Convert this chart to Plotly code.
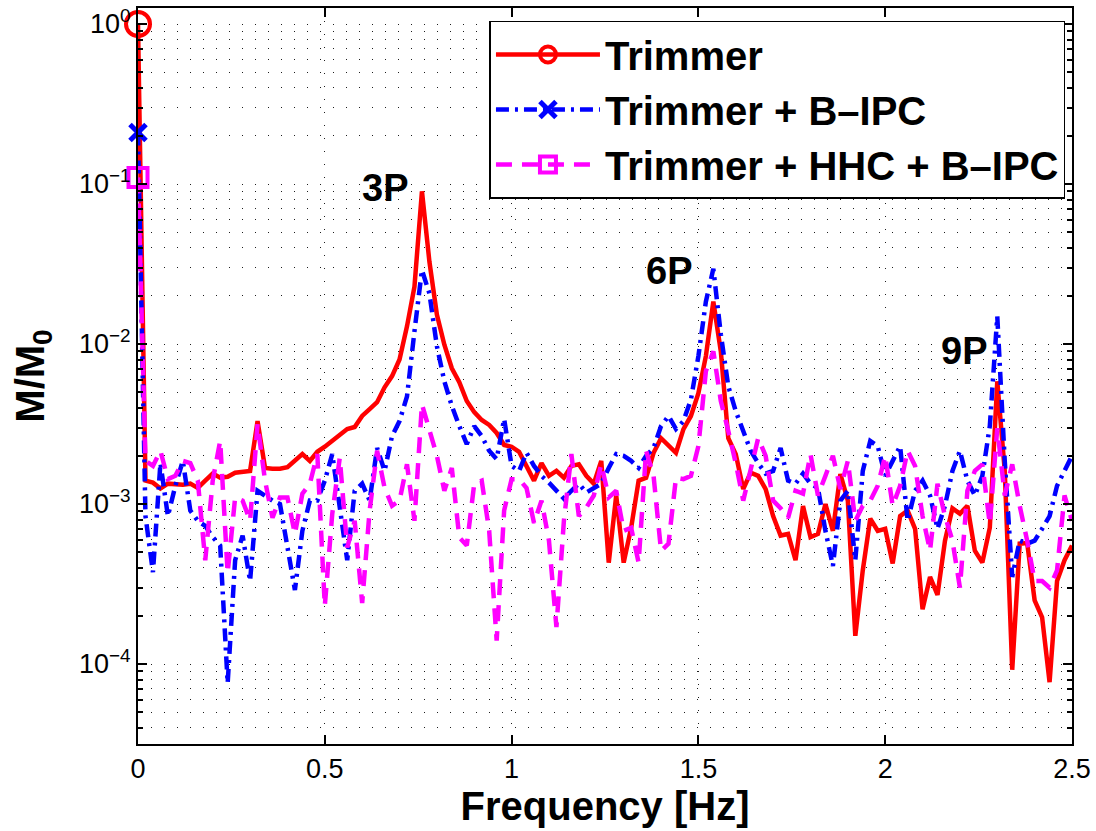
import numpy as np
import plotly.graph_objects as go

# ---------------- data ----------------
freq = [0.00, 0.02, 0.04, 0.06, 0.08, 0.10, 0.12, 0.14, 0.16, 0.18,
        0.20, 0.22, 0.24, 0.26, 0.28, 0.30, 0.32, 0.34, 0.36, 0.38,
        0.40, 0.42, 0.44, 0.46, 0.48, 0.50, 0.52, 0.54, 0.56, 0.58,
        0.60, 0.62, 0.64, 0.66, 0.68, 0.70, 0.72, 0.74, 0.76, 0.78,
        0.80, 0.82, 0.84, 0.86, 0.88, 0.90, 0.92, 0.94, 0.96, 0.98,
        1.00, 1.02, 1.04, 1.06, 1.08, 1.10, 1.12, 1.14, 1.16, 1.18,
        1.20, 1.22, 1.24, 1.26, 1.28, 1.30, 1.32, 1.34, 1.36, 1.38,
        1.40, 1.42, 1.44, 1.46, 1.48, 1.50, 1.52, 1.54, 1.56, 1.58,
        1.60, 1.62, 1.64, 1.66, 1.68, 1.70, 1.72, 1.74, 1.76, 1.78,
        1.80, 1.82, 1.84, 1.86, 1.88, 1.90, 1.92, 1.94, 1.96, 1.98,
        2.00, 2.02, 2.04, 2.06, 2.08, 2.10, 2.12, 2.14, 2.16, 2.18,
        2.20, 2.22, 2.24, 2.26, 2.28, 2.30, 2.32, 2.34, 2.36, 2.38,
        2.40, 2.42, 2.44, 2.46, 2.48, 2.50]

trimmer = [1.0, 1.4e-3, 1.36e-3, 1.25e-3, 1.34e-3, 1.32e-3, 1.32e-3, 1.34e-3, 1.26e-3, 1.4e-3,
           1.55e-3, 1.46e-3, 1.48e-3, 1.57e-3, 1.59e-3, 1.61e-3, 3.3e-3, 1.68e-3, 1.66e-3, 1.66e-3,
           1.7e-3, 1.86e-3, 2.05e-3, 1.86e-3, 2.12e-3, 2.28e-3, 2.48e-3, 2.74e-3, 2.94e-3, 3.03e-3,
           3.55e-3, 3.92e-3, 4.33e-3, 5.36e-3, 6.3e-3, 8.0e-3, 1.29e-2, 2.28e-2, 9.0e-2, 3.27e-2,
           1.53e-2, 9.9e-3, 7.05e-3, 5.77e-3, 4.4e-3, 3.75e-3, 3.35e-3, 3.12e-3, 2.78e-3, 2.34e-3,
           2.28e-3, 2.12e-3, 1.73e-3, 1.4e-3, 1.8e-3, 1.5e-3, 1.61e-3, 1.46e-3, 1.73e-3, 1.77e-3,
           1.5e-3, 1.34e-3, 1.86e-3, 4.3e-4, 1.13e-3, 4.3e-4, 7.1e-4, 1.4e-3, 1.46e-3, 2.09e-3,
           2.58e-3, 2.3e-3, 2.09e-3, 2.94e-3, 3.55e-3, 4.93e-3, 8.4e-3, 1.84e-2, 9.0e-3, 2.58e-3,
           2.05e-3, 1.24e-3, 1.57e-3, 1.5e-3, 1.24e-3, 8.4e-4, 6.35e-4, 6.5e-4, 4.45e-4, 9.7e-4,
           6.2e-4, 6.5e-4, 1.0e-3, 6.8e-4, 1.54e-3, 1.05e-3, 1.5e-4, 3.85e-4, 8.1e-4, 6.8e-4,
           7.0e-4, 4.25e-4, 8.4e-4, 9.1e-4, 7.0e-4, 2.2e-4, 3.5e-4, 2.7e-4, 5.9e-4, 9.4e-4,
           8.7e-4, 9.75e-4, 5.1e-4, 4.3e-4, 7.1e-4, 5.85e-3, 1.61e-3, 9.2e-5, 5.65e-4, 5.7e-4,
           2.5e-4, 1.96e-4, 7.7e-5, 3.3e-4, 4.45e-4, 5.5e-4]

trimmer_bipc = [0.21, 8.4e-4, 3.75e-4, 1.8e-3, 8.4e-4, 1.3e-3, 1.86e-3, 9.1e-4, 7.85e-4, 7.3e-4,
                6.2e-4, 5.5e-4, 7.6e-5, 4.45e-4, 6.35e-4, 3.3e-4, 1.21e-3, 1.13e-3, 1.05e-3, 1.0e-3,
                5.3e-4, 2.9e-4, 6.8e-4, 1.05e-3, 1.05e-3, 1.4e-3, 2.05e-3, 9.75e-4, 4.45e-4, 1.21e-3,
                1.34e-3, 1.05e-3, 2.24e-3, 1.61e-3, 2.66e-3, 3.3e-3, 4.7e-3, 1.2e-2, 2.9e-2, 2.07e-2,
                9.7e-3, 5.85e-3, 4.1e-3, 3.07e-3, 2.37e-3, 3.07e-3, 2.66e-3, 2.15e-3, 1.91e-3, 3.4e-3,
                1.73e-3, 1.61e-3, 2.09e-3, 1.73e-3, 1.5e-3, 1.36e-3, 1.21e-3, 1.08e-3, 1.21e-3, 1.34e-3,
                1.18e-3, 1.25e-3, 1.34e-3, 1.68e-3, 2.05e-3, 2.0e-3, 1.86e-3, 1.68e-3, 2.0e-3, 2.24e-3,
                3.07e-3, 3.55e-3, 2.94e-3, 3.3e-3, 4.5e-3, 8.4e-3, 1.84e-2, 2.95e-2, 1.15e-2, 5.45e-3,
                3.8e-3, 2.86e-3, 2.15e-3, 1.8e-3, 1.55e-3, 1.61e-3, 2.24e-3, 1.4e-3, 1.34e-3, 1.55e-3,
                1.34e-3, 1.26e-3, 6.8e-4, 4.1e-4, 1.05e-3, 1.21e-3, 4.45e-4, 1.61e-3, 2.48e-3, 2.3e-3,
                1.5e-3, 1.86e-3, 2.3e-3, 7.85e-4, 1.21e-3, 1.4e-3, 1.13e-3, 7.0e-4, 9.75e-4, 1.61e-3,
                2.15e-3, 1.4e-3, 1.13e-3, 1.5e-3, 3.07e-3, 1.49e-2, 1.86e-3, 3.5e-4, 5.9e-4, 5.65e-4,
                5.9e-4, 7.0e-4, 8.4e-4, 1.3e-3, 1.61e-3, 2.0e-3]

trimmer_hhc_bipc = [0.11, 1.86e-3, 1.73e-3, 2.15e-3, 1.43e-3, 1.5e-3, 1.86e-3, 1.8e-3, 1.4e-3, 4.45e-4,
                    1.4e-3, 2.48e-3, 3.7e-4, 1.1e-3, 1.05e-3, 7.85e-4, 3.16e-3, 1.4e-3, 8.2e-4, 1.1e-3,
                    1.1e-3, 6.5e-4, 1.16e-3, 1.34e-3, 2.05e-3, 2.3e-4, 8.7e-4, 1.94e-3, 5.35e-4, 7.85e-4,
                    2.4e-4, 9.1e-4, 2.15e-3, 1.26e-3, 9.75e-4, 1.05e-3, 1.77e-3, 7.85e-4, 4.2e-3, 2.86e-3,
                    2.0e-3, 1.21e-3, 1.68e-3, 6.2e-4, 5.5e-4, 1.34e-3, 1.4e-3, 6.8e-4, 1.4e-4, 9.1e-4,
                    1.43e-3, 1.43e-3, 1.26e-3, 7.6e-4, 1.05e-3, 5.9e-4, 1.7e-4, 7.85e-4, 2.05e-3, 8.4e-4,
                    9.5e-4, 1.13e-3, 1.77e-3, 1.1e-3, 1.21e-3, 6.8e-4, 7.1e-4, 4.3e-4, 2.15e-3, 1.5e-3,
                    5.1e-4, 5.65e-4, 1.46e-3, 1.43e-3, 1.5e-3, 2.3e-3, 6.75e-3, 9.0e-3, 4.4e-3, 2.86e-3,
                    1.8e-3, 1.05e-3, 1.61e-3, 2.58e-3, 2.0e-3, 1.05e-3, 9.4e-4, 8.2e-4, 1.21e-3, 1.16e-3,
                    2.05e-3, 1.13e-3, 1.5e-3, 2.0e-3, 1.24e-3, 1.86e-3, 7.85e-4, 9.75e-4, 1.05e-3, 1.3e-3,
                    2.0e-3, 9.75e-4, 1.3e-3, 2.15e-3, 1.73e-3, 8.4e-4, 5.1e-4, 1.34e-3, 8.4e-4, 5.9e-4,
                    3.0e-4, 1.21e-3, 1.61e-3, 1.77e-3, 7.5e-4, 2.98e-3, 1.13e-3, 1.77e-3, 9.75e-4, 5.9e-4,
                    3.3e-4, 3.3e-4, 3.0e-4, 3.85e-4, 1.13e-3, 7.85e-4]

series_names = ["Trimmer", "Trimmer + B\u2013IPC", "Trimmer + HHC + B\u2013IPC"]

peak_labels = ["3P", "6P", "9P"]
peak_label_x = [0.66, 1.42, 2.21]
peak_label_y = [0.094, 0.0287, 0.0091]

x_ticks = [0, 0.5, 1, 1.5, 2, 2.5]
y_ticks = [1e-4, 1e-3, 1e-2, 1e-1, 1e0]
y_ticktext = ["10<sup>\u22124</sup>", "10<sup>\u22123</sup>", "10<sup>\u22122</sup>",
              "10<sup>\u22121</sup>", "10<sup>0</sup>"]
y_minor = [m * 10.0 ** d for d in range(-5, 0) for m in range(2, 10)]

# ---------------- styles ----------------
FONT = "Liberation Sans, Arial, Helvetica, sans-serif"
styles = [
    dict(color="#FF0000", dash="solid", symbol="circle-open", msize=24, mlw=4),
    dict(color="#0000FF", dash="13px,6px,3px,6px", symbol="x-thin-open", msize=16, mlw=5),
    dict(color="#FF00FF", dash="16px,10px", symbol="square-open", msize=19, mlw=4),
]
data = [trimmer, trimmer_bipc, trimmer_hhc_bipc]

fig = go.Figure()
for name, ys, st in zip(series_names, data, styles):
    fig.add_trace(go.Scatter(
        x=freq, y=ys, mode="lines", showlegend=False,
        line=dict(color=st["color"], width=4.5, dash=st["dash"]),
    ))
for name, ys, st in zip(series_names, data, styles):
    # marker on first sample only
    fig.add_trace(go.Scatter(
        x=freq[:1], y=ys[:1], mode="markers", showlegend=False, cliponaxis=False,
        marker=dict(symbol=st["symbol"], size=st["msize"], color=st["color"],
                    line=dict(color=st["color"], width=st["mlw"])),
    ))
for name, ys, st in zip(series_names, data, styles):
    # legend entries
    fig.add_trace(go.Scatter(
        x=[None], y=[None], mode="lines+markers", name=name,
        line=dict(color=st["color"], width=4.5, dash=st["dash"]),
        marker=dict(symbol=st["symbol"], size=st["msize"], color=st["color"],
                    line=dict(color=st["color"], width=st["mlw"])),
    ))

for txt, lx, ly in zip(peak_labels, peak_label_x, peak_label_y):
    fig.add_annotation(x=lx, y=np.log10(ly), text=txt, showarrow=False,
                       font=dict(family=FONT, size=38, color="black", weight="bold"))

grid_col = "#1e1e1e"
fig.update_layout(
    width=1096, height=831,
    margin=dict(l=138, r=19, t=5, b=87),
    paper_bgcolor="white", plot_bgcolor="white",
    font=dict(family=FONT, color="black"),
    legend=dict(
        x=0.993, y=0.983, xanchor="right", yanchor="top",
        bgcolor="white", bordercolor="black", borderwidth=1.5,
        font=dict(family=FONT, size=40, color="black", weight="bold"),
        itemwidth=104, tracegroupgap=0,
    ),
    xaxis=dict(
        range=[0, 2.5], tickvals=x_ticks, ticks="inside", ticklen=9, tickwidth=1.5,
        tickcolor="black", showline=True, linecolor="black", linewidth=2, mirror="ticks",
        showgrid=True, gridcolor=grid_col, gridwidth=1, griddash="1px,12px",
        zeroline=False, tickfont=dict(size=27, family=FONT),
        title=dict(text="Frequency [Hz]", font=dict(size=40, family=FONT, weight="bold"), standoff=2),
    ),
    yaxis=dict(
        type="log", range=[-4.5, 0.1], tickvals=y_ticks, ticktext=y_ticktext,
        ticks="inside", ticklen=9, tickwidth=1.5, tickcolor="black",
        showline=True, linecolor="black", linewidth=2, mirror="ticks",
        showgrid=True, gridcolor=grid_col, gridwidth=1, griddash="1px,12px",
        zeroline=False, tickfont=dict(size=27, family=FONT),
        minor=dict(tickmode="array", tickvals=y_minor, ticks="inside", ticklen=5,
                   tickcolor="black", showgrid=True, gridcolor=grid_col, gridwidth=1,
                   griddash="1px,12px"),
        title=dict(text="M/M<sub>0</sub>", font=dict(size=40, family=FONT, weight="bold"), standoff=22),
    ),
)

fig.write_html("out.html")
